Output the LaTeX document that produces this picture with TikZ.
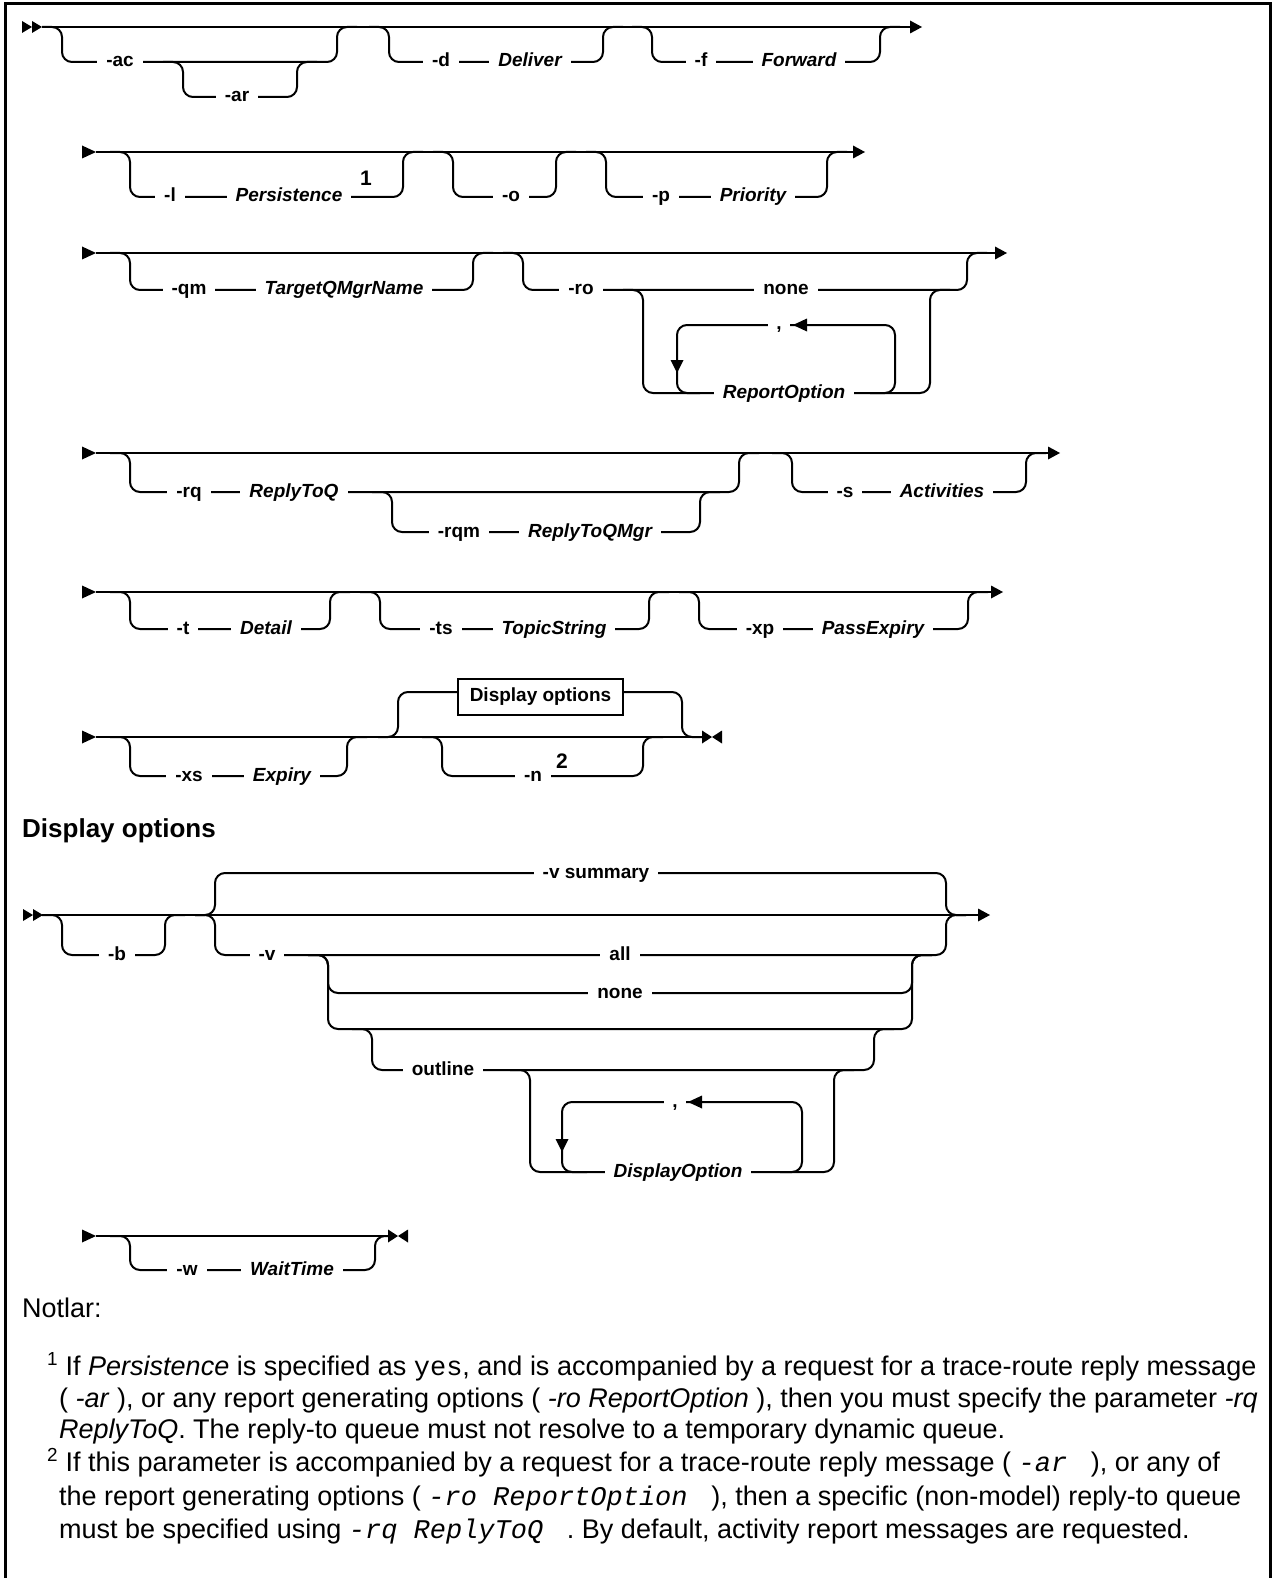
\documentclass[tikz,border=0pt]{standalone}
\usepackage{fontspec}
\setmainfont{Liberation Sans}
\setmonofont{Liberation Mono}
\newfontfamily\dfont{Liberation Sans}
\newcommand\railopt[4]{\draw[rail] ({#1-20},#3) -- (#1,#3) -- (#1,#4) -- (#2,#4) -- (#2,#3) -- ({#2+20},#3);}
\newcommand\tright[2]{\fill ({#1-12},{#2-6.5}) -- (#1,#2) -- ({#1-12},{#2+6.5}) -- cycle;}
\newcommand\tleft[2]{\fill ({#1+14},{#2-6.5}) -- (#1,#2) -- ({#1+14},{#2+6.5}) -- cycle;}
\newcommand\tdown[2]{\fill ({#1-6.5},{#2-13}) -- (#1,#2) -- ({#1+6.5},{#2-13}) -- cycle;}
\newcommand\dstart[2]{\fill (#1,{#2-6}) -- ({#1+10},#2) -- (#1,{#2+6}) -- cycle;\fill ({#1+10},{#2-6}) -- ({#1+20},#2) -- ({#1+10},{#2+6}) -- cycle;}
\newcommand\sstart[2]{\fill (#1,{#2-6.5}) -- ({#1+14},#2) -- (#1,{#2+6.5}) -- cycle;}
\newcommand\stopmark[2]{\fill (#1,{#2-6.5}) -- ({#1+10},#2) -- (#1,{#2+6.5}) -- cycle;\fill ({#1+20},{#2-6.5}) -- ({#1+10},#2) -- ({#1+20},{#2+6.5}) -- cycle;}
\begin{document}
\begin{tikzpicture}[x=1pt,y=-1pt,
  rail/.style={line width=2pt, rounded corners=10pt},
  kw/.style={font=\dfont\bfseries\fontsize{19}{23}\selectfont, fill=white, inner xsep=9pt, inner ysep=0pt, text height=14pt, text depth=4pt},
  var/.style={kw, font=\dfont\bfseries\itshape\fontsize{19}{23}\selectfont},
  comma/.style={kw, inner xsep=8pt},
  supnum/.style={font=\dfont\bfseries\fontsize{21}{24}\selectfont, inner sep=1pt},
  note/.style={font=\fontsize{27}{32}\selectfont, anchor=base west, inner sep=0pt},
  framebox/.style={line width=3pt}
]
\useasboundingbox (0,0) rectangle (1275,1578);
\draw[framebox] (5,1578) -- (5,4) -- (1270,4) -- (1270,1578);

% ---------- Row 1 ----------
\dstart{22}{27}
\draw[rail] (42,27) -- (910,27);
\tright{922}{27}
\railopt{62}{337}{27}{62}
\railopt{183}{297}{62}{97}
\railopt{389}{603}{27}{62}
\railopt{652}{880}{27}{62}
\node[kw] (ac) at (120,62) {-ac};
\node[kw] (ar) at (237,97) {-ar};
\node[kw] (d) at (441,62) {-d};
\node[var] (deliver) at (530,62) {Deliver};
\node[kw] (f) at (701,62) {-f};
\node[var] (forward) at (799,62) {Forward};

% ---------- Row 2 ----------
\sstart{82}{152}
\draw[rail] (96,152) -- (853,152);
\tright{865}{152}
\railopt{130}{403}{152}{197}
\railopt{453}{556}{152}{197}
\railopt{606}{827}{152}{197}
\node[kw] (l) at (170,197) {-l};
\node[var] (persist) at (289,197) {Persistence};
\node[supnum] (s1) at (366,178) {1};
\node[kw] (o) at (511,197) {-o};
\node[kw] (p) at (661,197) {-p};
\node[var] (prio) at (753,197) {Priority};

% ---------- Row 3 ----------
\sstart{82}{253}
\draw[rail] (96,253) -- (995,253);
\tright{1007}{253}
\railopt{130}{473}{253}{290}
\draw[rail] (503,253) -- (523,253) -- (523,290) -- (967,290) -- (967,253) -- (987,253);
\draw[rail] (623,290) -- (643,290) -- (643,393) -- (930,393) -- (930,290) -- (950,290);
\draw[rail] (870,393) -- (895,393) -- (895,325) -- (677,325) -- (677,393) -- (700,393);
\node[kw] (qm) at (189,290) {-qm};
\node[var] (tqm) at (344,290) {TargetQMgrName};
\node[kw] (ro) at (581,290) {-ro};
\node[kw] (none1) at (786,290) {none};
\node[var] (ropt) at (784,393) {ReportOption};
\node[comma] (c1) at (779,325) {,};
\tleft{793}{325}
\tdown{677}{373}

% ---------- Row 4 ----------
\sstart{82}{453}
\draw[rail] (96,453) -- (1048,453);
\tright{1060}{453}
\railopt{130}{739}{453}{492}
\railopt{392}{700}{492}{532}
\railopt{792}{1026}{453}{492}
\node[kw] (rq) at (189,492) {-rq};
\node[var] (rtq) at (294,492) {ReplyToQ};
\node[kw] (rqm) at (459,532) {-rqm};
\node[var] (rtqm) at (590,532) {ReplyToQMgr};
\node[kw] (s) at (845,492) {-s};
\node[var] (act) at (942,492) {Activities};

% ---------- Row 5 ----------
\sstart{82}{592}
\draw[rail] (96,592) -- (991,592);
\tright{1003}{592}
\railopt{130}{330}{592}{629}
\railopt{380}{649}{592}{629}
\railopt{699}{968}{592}{629}
\node[kw] (t) at (183,629) {-t};
\node[var] (detail) at (266,629) {Detail};
\node[kw] (ts) at (441,629) {-ts};
\node[var] (topic) at (554,629) {TopicString};
\node[kw] (xp) at (760,629) {-xp};
\node[var] (pexp) at (873,629) {PassExpiry};

% ---------- Row 6 ----------
\sstart{82}{737}
\draw[rail] (96,737) -- (702,737);
\stopmark{702}{737}
\railopt{130}{347}{737}{776}
\draw[rail] (378,737) -- (398,737) -- (398,692) -- (682,692) -- (682,737) -- (702,737);
\railopt{442}{643}{737}{776}
\node[kw] (xs) at (189,776) {-xs};
\node[var] (expiry) at (282,776) {Expiry};
\node[draw, line width=1.5pt, fill=white, font=\dfont\bfseries\fontsize{19}{23}\selectfont, minimum width=165pt, minimum height=36pt, inner sep=0pt] (dobox) at (540.5,697) {Display options};
\node[kw] (n) at (533,776) {-n};
\node[supnum] (s2) at (562,761) {2};

% ---------- Display options ----------
\node[anchor=west, font=\bfseries\fontsize{26}{30}\selectfont, inner sep=0pt] (dohead) at (22,831) {Display options};
\dstart{23}{915}
\draw[rail] (43,915) -- (978,915);
\tright{990}{915}
\railopt{62}{165}{915}{955}
\draw[rail] (195,915) -- (215,915) -- (215,873) -- (946,873) -- (946,915) -- (966,915);
\draw[rail] (195,915) -- (215,915) -- (215,955) -- (946,955) -- (946,915) -- (966,915);
\draw[rail] (308,955) -- (328,955) -- (328,993) -- (912,993) -- (912,955) -- (932,955);
\draw[rail] (308,955) -- (328,955) -- (328,1029) -- (912,1029) -- (912,955) -- (932,955);
\draw[rail] (352,1029) -- (372,1029) -- (372,1070) -- (874,1070) -- (874,1029) -- (894,1029);
\draw[rail] (510,1070) -- (530,1070) -- (530,1172) -- (834,1172) -- (834,1070) -- (854,1070);
\draw[rail] (780,1172) -- (802,1172) -- (802,1102) -- (562,1102) -- (562,1172) -- (587,1172);
\node[kw] (b) at (117,955) {-b};
\node[kw] (vsum) at (596,873) {-v summary};
\node[kw] (v) at (267,955) {-v};
\node[kw] (all) at (620,955) {all};
\node[kw] (none2) at (620,993) {none};
\node[kw] (outline) at (443,1070) {outline};
\node[var] (dopt) at (678,1172) {DisplayOption};
\node[comma] (c2) at (675,1102) {,};
\tleft{688}{1102}
\tdown{562}{1152}

% ---------- -w row ----------
\sstart{82}{1236}
\draw[rail] (96,1236) -- (388,1236);
\stopmark{388}{1236}
\railopt{130}{375}{1236}{1270}
\node[kw] (w) at (187,1270) {-w};
\node[var] (wait) at (292,1270) {WaitTime};

% ---------- Notes ----------
\node[note] (notlar) at (22,1317) {Notlar:};
\node[note] (n1a) at (47,1375) {\textsuperscript{1} If \textit{Persistence} is specified as \texttt{yes}, and is accompanied by a request for a trace-route reply message};
\node[note] (n1b) at (59,1407) {( \textit{-ar} ), or any report generating options ( \textit{-ro ReportOption} ), then you must specify the parameter \textit{-rq}};
\node[note] (n1c) at (59,1438) {\textit{ReplyToQ}. The reply-to queue must not resolve to a temporary dynamic queue.};
\node[note] (n2a) at (47,1471) {\textsuperscript{2} If this parameter is accompanied by a request for a trace-route reply message ( \texttt{\itshape -ar~} ), or any of};
\node[note] (n2b) at (59,1505) {the report generating options ( \texttt{\itshape -ro~ReportOption~} ), then a specific (non-model) reply-to queue};
\node[note] (n2c) at (59,1538) {must be specified using \texttt{\itshape -rq~ReplyToQ~} . By default, activity report messages are requested.};
\end{tikzpicture}
\end{document}
